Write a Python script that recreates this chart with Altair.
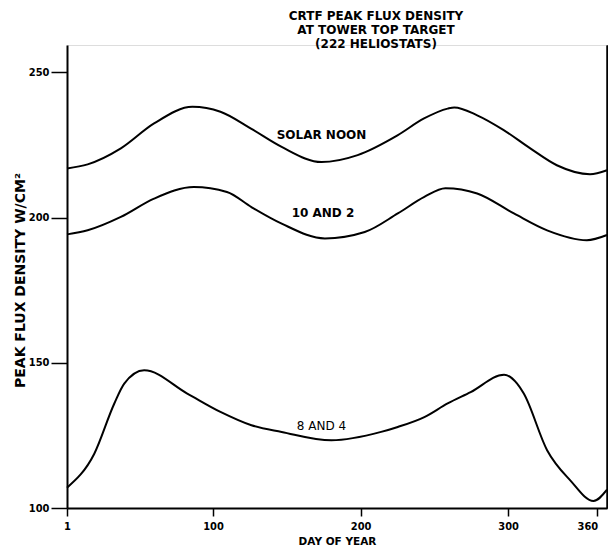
import altair as alt
import pandas as pd

# ---- data ----
noon_day = [1, 15, 37.5, 60, 86, 105, 126, 146.5, 173.5, 198, 225, 243, 259, 263.5, 279, 297, 315, 333, 355.5, 367]
noon_val = [216.9, 218.3, 223.8, 232.4, 238.1, 236.4, 230.5, 224.3, 219.1, 221.5, 228.3, 234.1, 237.5, 237.9, 235.2, 230.1, 223.8, 218.0, 214.9, 216.3]

ten_day = [1, 15, 37.5, 60, 87, 109.4, 126, 146.5, 175.8, 202.8, 225.2, 243.2, 257.5, 279, 303.9, 326.4, 353.3, 367]
ten_val = [194.2, 195.6, 200.2, 206.5, 210.5, 208.8, 203.6, 197.9, 192.8, 195.0, 201.4, 207.1, 210.1, 208.3, 201.4, 195.6, 192.2, 194.0]

eight_day = [1, 19.5, 33, 39.8, 53.3, 82.5, 105, 126, 146.5, 180.2, 213.9, 225.2, 243.2, 259, 274.6, 297.2, 306.1, 310.6, 326.4, 342.1, 357.8, 367]
eight_val = [107.0, 118.7, 135.9, 142.8, 147.4, 139.4, 133.1, 128.5, 126.2, 123.3, 126.2, 127.9, 131.3, 136.0, 139.9, 145.9, 142.8, 139.4, 119.9, 109.5, 102.4, 106.3]

series_names = ["SOLAR NOON", "10 AND 2", "8 AND 4"]
label_day = [173.5, 174.5, 173.5]
label_val = [228.3, 201.5, 128.2]

x_ticks = [1, 100, 200, 300, 360]
y_ticks = [100, 150, 200, 250]
title_lines = ["CRTF PEAK FLUX DENSITY", "AT TOWER TOP TARGET", "(222 HELIOSTATS)"]

# ---- tables ----
rows = []
for name, ds, vs in zip(series_names, [noon_day, ten_day, eight_day], [noon_val, ten_val, eight_val]):
    for d, v in zip(ds, vs):
        rows.append({"series": name, "day": d, "value": v})
df = pd.DataFrame(rows)
labels = pd.DataFrame({"text": series_names, "day": label_day, "value": label_val})

tick_font = "DejaVu Sans Condensed, DejaVu Sans, sans-serif"

xscale = alt.Scale(domain=[1, 367], nice=False, zero=False)
yscale = alt.Scale(domain=[100, 259.4], nice=False, zero=False)

x_enc = alt.X("day:Q", scale=xscale, axis=alt.Axis(
    values=x_ticks, title="DAY OF YEAR", grid=False,
    domainColor="black", domainWidth=2, tickColor="black", tickWidth=1.5, tickSize=8,
    labelFont=tick_font, labelFontSize=11, labelFontWeight="bold", labelColor="black",
    labelPadding=4, labelFlush=False,
    labelAlign={"expr": "datum.value == 360 ? 'right' : 'center'"},
    labelOffset={"expr": "datum.value == 360 ? 1 : 0"},
    titleFont="DejaVu Sans", titleFontSize=10.5, titleFontWeight="bold", titleColor="black",
    titleY=36, titleBaseline="alphabetic"))

y_enc = alt.Y("value:Q", scale=yscale, axis=alt.Axis(
    values=y_ticks, title="PEAK FLUX DENSITY W/CM²", grid=False,
    domainColor="black", domainWidth=2, tickColor="black", tickWidth=1.5, tickSize=16,
    labelFont=tick_font, labelFontSize=11, labelFontWeight="bold", labelColor="black",
    labelPadding=2, labelFlush=False,
    titleFont="DejaVu Sans", titleFontSize=14, titleFontWeight="bold", titleColor="black",
    titleX=-40, titleY=235, titleAngle=270, titleBaseline="bottom", titleAlign="center"))

lines = alt.Chart(df).mark_line(color="black", strokeWidth=2, interpolate="monotone").encode(
    x=x_enc, y=y_enc, detail="series:N")

y_right = alt.Y("value:Q", scale=yscale, axis=alt.Axis(
    orient="right", labels=False, ticks=False, title=None, grid=False,
    domainColor="black", domainWidth=2))

bold_labels = alt.Chart(labels[labels["text"] != "8 AND 4"]).mark_text(
    font="DejaVu Sans", fontSize=12, fontWeight="bold", color="black", baseline="middle").encode(
    x=alt.X("day:Q", scale=xscale), y=y_right, text="text:N")

thin_labels = alt.Chart(labels[labels["text"] == "8 AND 4"]).mark_text(
    font="DejaVu Sans", fontSize=12, color="black", baseline="middle").encode(
    x=alt.X("day:Q", scale=xscale), y=y_right, text="text:N")

chart = alt.layer(lines, bold_labels, thin_labels).resolve_axis(y="independent").properties(
    width=540, height=463,
    autosize=alt.AutoSizeParams(type="none"),
    padding={"left": 59, "top": 37, "right": 1, "bottom": 37},
    title=alt.TitleParams(title_lines, font="DejaVu Sans", fontSize=12, fontWeight="bold",
                          color="black", lineHeight=14, anchor="middle", dx=39, offset=-6),
).configure_view(stroke=None).configure(background="white")

chart.save("out.html", embed_options={"renderer": "svg", "actions": False})
